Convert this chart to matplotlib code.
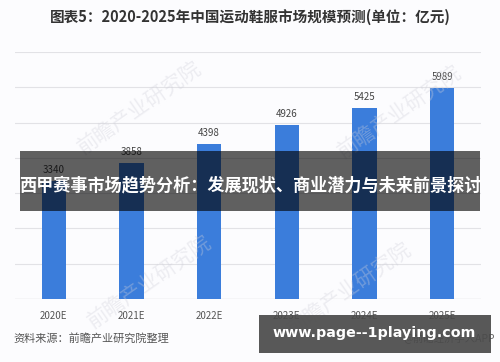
import matplotlib
matplotlib.use('Agg')
import matplotlib.pyplot as plt
from matplotlib.patches import Rectangle

plt.rcParams['font.family'] = ['Noto Sans CJK SC', 'DejaVu Sans']

years = ['2020E', '2021E', '2022E', '2023E', '2024E', '2025E']
values = [3340, 3858, 4398, 4926, 5425, 5989]

title = '图表5：2020-2025年中国运动鞋服市场规模预测(单位：亿元)'
source = '资料来源：前瞻产业研究院整理'
banner = '西甲赛事市场趋势分析：发展现状、商业潜力与未来前景探讨'
site = 'www.page--1playing.com'
mark = '前瞻产业研究院'

fig = plt.figure(figsize=(5, 3.62), dpi=100)
fig.patch.set_facecolor('#fcfcfe')
ax = fig.add_axes([0.03, 0.174, 0.932, 0.682])
ax.set_facecolor('#fcfcfe')

x = range(len(years))
ax.bar(x, values, width=0.31, color='#3b7ddb', zorder=2)
for i, v in zip(x, values):
    ax.text(i, v + 170, str(v), ha='center', va='bottom', fontsize=7, color='#444444')

ax.set_ylim(0, 7000)
ax.set_xlim(-0.5, 5.5)
ax.set_yticks(range(0, 7001, 1000))
ax.yaxis.grid(True, color='#e2e2e6', linewidth=0.8, zorder=0)
ax.tick_params(left=False, labelleft=False, bottom=False)
ax.set_xticks(list(x))
ax.set_xticklabels(years, fontsize=7, color='#555555')
ax.tick_params(axis='x', pad=5)
for s in ax.spines.values():
    s.set_visible(False)
ax.axhline(0, color='#d8d8dc', linewidth=0.9, zorder=1)

fig.text(0.5, 0.952, title, ha='center', va='center', fontsize=10.5,
         fontweight='bold', color='#333333')
fig.text(0.026, 0.066, source, ha='left', va='center', fontsize=8, color='#555555')

# faint watermarks
for wx, wy in [(0.28, 0.70), (0.80, 0.69), (0.30, 0.22), (0.70, 0.20)]:
    fig.text(wx, wy, mark, ha='center', va='center', fontsize=15,
             rotation=35, color='#d0d0da', alpha=0.35, zorder=1)
fig.text(0.99, 0.066, '@前瞻经济学人APP', ha='right', va='center', fontsize=7.5,
         color='#666666', zorder=1)

# overlay band
fig.patches.append(Rectangle((0.04, 1 - 211 / 362), 0.92, 60 / 362,
                             transform=fig.transFigure, facecolor='black',
                             alpha=0.62, zorder=5))
fig.text(0.5, 1 - 185 / 362, banner, ha='center', va='center', fontsize=12.3,
         fontweight='bold', color='white', zorder=6)

fig.patches.append(Rectangle((259 / 500, 1 - 353 / 362), 232 / 500, 38 / 362,
                             transform=fig.transFigure, facecolor='#4a4a4a',
                             alpha=0.92, zorder=5))
fig.text(374 / 500, 1 - 333 / 362, site, ha='center', va='center', fontsize=10.3,
         fontweight='bold', color='white', family='DejaVu Sans', zorder=6)

fig.savefig('out.png', dpi=100)
